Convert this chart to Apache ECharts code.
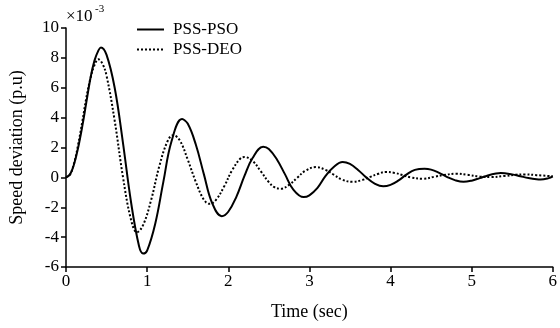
<!DOCTYPE html>
<html>
<head>
<meta charset="utf-8">
<script src="https://cdn.jsdelivr.net/npm/echarts@6/dist/echarts.min.js"></script>
<style>
  html, body { margin: 0; padding: 0; background: #fff; }
  #chart { width: 560px; height: 328px; }
</style>
</head>
<body>
<div id="chart"></div>
<script>
'use strict';

// speed deviation (x10^-3 p.u)
var psoTime = [0, 0.05, 0.1, 0.15, 0.2, 0.25, 0.3, 0.35, 0.4, 0.43, 0.5, 0.6, 0.7, 0.8, 0.9, 0.95,
  1.0, 1.1, 1.2, 1.3, 1.43, 1.5, 1.6, 1.7, 1.8, 1.92, 2.0, 2.1, 2.2, 2.3, 2.43, 2.5, 2.6, 2.7, 2.8, 2.93,
  3.0, 3.1, 3.2, 3.3, 3.41, 3.5, 3.6, 3.7, 3.8, 3.91, 4.0, 4.1, 4.2, 4.3, 4.42, 4.5, 4.6, 4.7, 4.8, 4.9,
  5.0, 5.1, 5.2, 5.3, 5.36, 5.5, 5.6, 5.7, 5.8, 5.85, 5.95, 6.0];
var psoValues = [0, 0.2, 0.9, 2.0, 3.4, 5.0, 6.6, 7.8, 8.5, 8.7, 8.2, 6.0, 2.4, -1.6, -4.6, -5.1,
  -4.9, -3.1, -0.3, 2.4, 3.9, 3.6, 2.2, 0.2, -1.7, -2.6, -2.3, -1.3, 0.1, 1.3, 2.05, 1.9, 1.2, 0.2, -0.8, -1.32,
  -1.2, -0.7, 0.1, 0.7, 1.03, 0.9, 0.5, 0.0, -0.4, -0.6, -0.5, -0.2, 0.2, 0.5, 0.58, 0.52, 0.3, 0.02, -0.2, -0.3,
  -0.22, -0.05, 0.13, 0.26, 0.29, 0.2, 0.08, -0.04, -0.13, -0.15, -0.05, 0.07];

var deoTime = [0, 0.05, 0.1, 0.15, 0.2, 0.25, 0.3, 0.35, 0.4, 0.45, 0.5, 0.6, 0.7, 0.8, 0.875,
  0.95, 1.05, 1.15, 1.25, 1.32, 1.4, 1.5, 1.6, 1.7, 1.77, 1.85, 1.95, 2.05, 2.15, 2.2, 2.3, 2.4, 2.5, 2.57, 2.65,
  2.75, 2.85, 2.95, 3.08, 3.2, 3.3, 3.4, 3.53, 3.65, 3.75, 3.85, 3.94, 4.05, 4.15, 4.25, 4.4, 4.55, 4.65, 4.81,
  4.95, 5.1, 5.24, 5.4, 5.55, 5.65, 5.8, 6.0];
var deoValues = [0, 0.2, 0.95, 2.2, 3.7, 5.3, 6.6, 7.5, 7.9, 7.6, 6.8, 3.8, 0.1, -2.8, -3.67,
  -3.2, -1.5, 0.75, 2.4, 2.82, 2.5, 1.2, -0.3, -1.5, -1.77, -1.5, -0.6, 0.5, 1.26, 1.36, 1.1, 0.42, -0.32, -0.66, -0.76,
  -0.5, -0.03, 0.44, 0.69, 0.5, 0.18, -0.14, -0.3, -0.18, 0.03, 0.24, 0.36, 0.3, 0.15, 0.0, -0.09, 0.05, 0.15, 0.25,
  0.17, 0.06, 0.02, 0.09, 0.18, 0.2, 0.15, 0.07];

var seriesNames = ['PSS-PSO', 'PSS-DEO'];

function pairs(xs, ys) {
  return xs.map(function (x, i) { return [x, ys[i]]; });
}

var serif = '"Liberation Serif", "Times New Roman", serif';

var myChart = echarts.init(document.getElementById('chart'));

myChart.setOption({
  animation: false,
  backgroundColor: '#fff',
  textStyle: { fontFamily: serif, color: '#000' },
  grid: { left: 66, right: 5, top: 28, bottom: 61 },
  legend: {
    orient: 'vertical',
    left: 136,
    top: 21,
    padding: 0,
    itemWidth: 27,
    itemHeight: 14,
    itemGap: 3,
    itemStyle: { opacity: 0 },
    textStyle: { fontFamily: serif, fontSize: 17, color: '#000', padding: [0, 0, 0, 4] },
    data: seriesNames
  },
  graphic: [
    { type: 'text', left: 66, top: 8, style: { text: '×10', font: '17px ' + serif, fill: '#000' } },
    { type: 'text', left: 95, top: 4, style: { text: '-3', font: '11px ' + serif, fill: '#000' } }
  ],
  xAxis: {
    type: 'value',
    min: 0,
    max: 6,
    interval: 1,
    name: 'Time (sec)',
    nameLocation: 'middle',
    nameGap: 36,
    nameTextStyle: { fontFamily: serif, fontSize: 18, color: '#000' },
    axisLine: { onZero: false, lineStyle: { color: '#000', width: 1.5 } },
    axisTick: { length: 5, lineStyle: { color: '#000', width: 1.5 } },
    axisLabel: { fontFamily: serif, fontSize: 17, color: '#000', margin: 6 },
    splitLine: { show: false }
  },
  yAxis: {
    type: 'value',
    min: -6,
    max: 10,
    interval: 2,
    name: 'Speed deviation (p.u)',
    nameLocation: 'middle',
    nameGap: 40,
    nameTextStyle: { fontFamily: serif, fontSize: 18, color: '#000' },
    axisLine: { show: true, onZero: false, lineStyle: { color: '#000', width: 1.5 } },
    axisTick: { show: true, length: 5, lineStyle: { color: '#000', width: 1.5 } },
    axisLabel: { fontFamily: serif, fontSize: 17, color: '#000', margin: 7 },
    splitLine: { show: false }
  },
  series: [
    {
      name: seriesNames[0],
      type: 'line',
      smooth: 0.4,
      symbol: 'none',
      data: pairs(psoTime, psoValues),
      lineStyle: { color: '#000', width: 2 },
      itemStyle: { color: '#000' }
    },
    {
      name: seriesNames[1],
      type: 'line',
      smooth: 0.4,
      symbol: 'none',
      data: pairs(deoTime, deoValues),
      lineStyle: { color: '#000', width: 2, type: [2, 2] },
      itemStyle: { color: '#000' }
    }
  ]
});
</script>
</body>
</html>
